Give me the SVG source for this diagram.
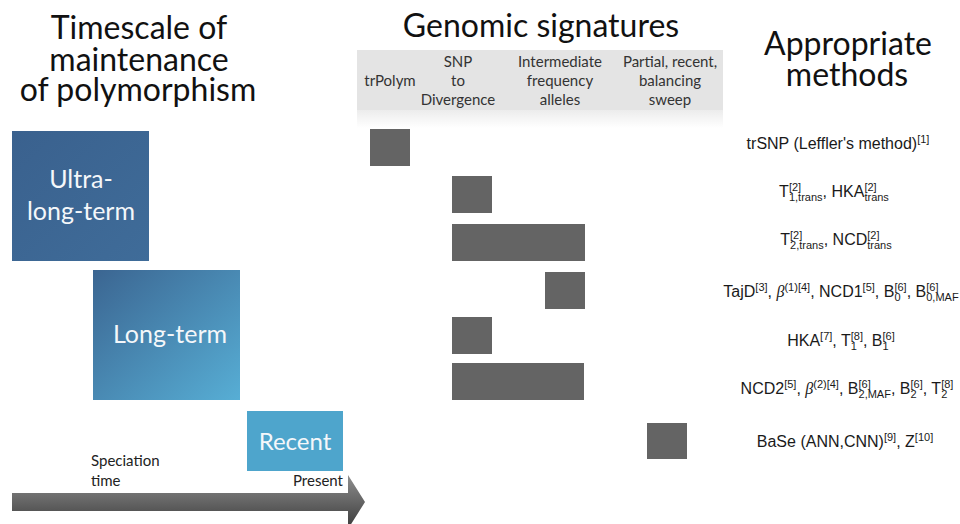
<svg xmlns="http://www.w3.org/2000/svg" width="960" height="524" viewBox="0 0 960 524">
<defs>
<linearGradient id="gUltra" x1="0" y1="0" x2="1" y2="1"><stop offset="0" stop-color="#3a618e"/><stop offset="1" stop-color="#3f6c99"/></linearGradient>
<linearGradient id="gLong" x1="0" y1="0" x2="1" y2="1"><stop offset="0" stop-color="#3b6591"/><stop offset="1" stop-color="#57aed5"/></linearGradient>
<linearGradient id="gArrow" x1="0" y1="0" x2="0" y2="1"><stop offset="0" stop-color="#8e8e8e"/><stop offset="1" stop-color="#3a3a3a"/></linearGradient>
<linearGradient id="gShadow" x1="0" y1="0" x2="0" y2="1"><stop offset="0" stop-color="#ececec"/><stop offset="1" stop-color="#ffffff"/></linearGradient>
<style>
.title{font-family:Lato,"Open Sans",sans-serif;font-size:32px;fill:#111;text-anchor:middle}
.col{font-family:Lato,"Open Sans",sans-serif;font-size:15px;fill:#333;text-anchor:middle}
.box{font-family:Lato,"Open Sans",sans-serif;font-size:25px;fill:#f4f7fa;text-anchor:middle}
.axis{font-family:Lato,"Open Sans",sans-serif;font-size:15px;fill:#222}
.m{font-family:"Liberation Sans",Arial,sans-serif;font-size:16px;fill:#1a1a1a;text-anchor:middle}
.s{font-size:11px}
.g{font-family:"Liberation Serif",serif;font-style:italic}
.blk{fill:#646464}
</style>
</defs>
<rect width="960" height="524" fill="#ffffff"/>

<g id="titles">
<text class="title" x="139" y="39">Timescale of</text>
<text class="title" x="139" y="71">maintenance</text>
<text class="title" x="138" y="101">of polymorphism</text>
<text class="title" x="541" y="37">Genomic signatures</text>
<text class="title" x="848" y="55">Appropriate</text>
<text class="title" x="847" y="86">methods</text>
</g>

<g id="header">
<rect x="357" y="110" width="366" height="18" fill="url(#gShadow)"/>
<rect x="357" y="50" width="366" height="60" fill="#e4e4e4"/>
<text class="col" x="390" y="86">trPolym</text>
<text class="col" x="458" y="67">SNP</text>
<text class="col" x="458" y="86">to</text>
<text class="col" x="458" y="105">Divergence</text>
<text class="col" x="560" y="67">Intermediate</text>
<text class="col" x="560" y="86">frequency</text>
<text class="col" x="560" y="105">alleles</text>
<text class="col" x="670" y="67">Partial, recent,</text>
<text class="col" x="670" y="86">balancing</text>
<text class="col" x="670" y="105">sweep</text>
</g>

<g id="ultra-long-term">
<rect x="12" y="131" width="137" height="130" fill="url(#gUltra)"/>
<text class="box" x="81" y="188">Ultra-</text>
<text class="box" x="81" y="220">long-term</text>
</g>
<g id="long-term">
<rect x="93" y="270" width="147" height="130" fill="url(#gLong)"/>
<text class="box" x="170" y="343">Long-term</text>
</g>
<g id="recent">
<rect x="247" y="411" width="96" height="60" fill="#4ea5cc"/>
<text class="box" x="295" y="450" style="font-size:24px">Recent</text>
</g>

<g id="timeline">
<polygon points="12,493 348,493 348,475 365,502 348,529 348,511 12,511" fill="url(#gArrow)"/>
<text class="axis" x="91" y="466">Speciation</text>
<text class="axis" x="91" y="486">time</text>
<text class="axis" x="293" y="486">Present</text>
</g>

<g id="signature-blocks">
<rect class="blk" x="370" y="129" width="40" height="37"/>
<rect class="blk" x="452" y="176" width="40" height="37"/>
<rect class="blk" x="452" y="224" width="133" height="37"/>
<rect class="blk" x="545" y="272" width="40" height="37"/>
<rect class="blk" x="452" y="317" width="40" height="37"/>
<rect class="blk" x="452" y="363" width="132" height="37"/>
<rect class="blk" x="647" y="423" width="40" height="36"/>
</g>

<g id="methods">
<text class="m" x="838" y="149">trSNP (Leffler's method)<tspan class="s" dy="-6">[1]</tspan></text>
<text class="m" x="834" y="197">T<tspan class="s" dy="-6">[2]</tspan><tspan class="s" dx="-12.2" dy="10">1,trans</tspan><tspan dy="-4">, HKA</tspan><tspan class="s" dy="-6">[2]</tspan><tspan class="s" dx="-12.2" dy="10">trans</tspan></text>
<text class="m" x="836" y="245">T<tspan class="s" dy="-6">[2]</tspan><tspan class="s" dx="-12.2" dy="10">2,trans</tspan><tspan dy="-4">, NCD</tspan><tspan class="s" dy="-6">[2]</tspan><tspan class="s" dx="-12.2" dy="10">trans</tspan></text>
<text class="m" x="841" y="297">TajD<tspan class="s" dy="-6">[3]</tspan><tspan dy="6">, </tspan><tspan class="g">β</tspan><tspan class="s" dy="-6">(1)[4]</tspan><tspan dy="6">, NCD1</tspan><tspan class="s" dy="-6">[5]</tspan><tspan dy="6">, B</tspan><tspan class="s" dy="4">0</tspan><tspan class="s" dx="-6.1" dy="-10">[6]</tspan><tspan dy="6">, B</tspan><tspan class="s" dy="-6">[6]</tspan><tspan class="s" dx="-12.2" dy="10">0,MAF</tspan></text>
<text class="m" x="841" y="346">HKA<tspan class="s" dy="-6">[7]</tspan><tspan dy="6">, T</tspan><tspan class="s" dy="4">1</tspan><tspan class="s" dx="-6.1" dy="-10">[8]</tspan><tspan dy="6">, B</tspan><tspan class="s" dy="4">1</tspan><tspan class="s" dx="-6.1" dy="-10">[6]</tspan></text>
<text class="m" x="847" y="394">NCD2<tspan class="s" dy="-6">[5]</tspan><tspan dy="6">, </tspan><tspan class="g">β</tspan><tspan class="s" dy="-6">(2)[4]</tspan><tspan dy="6">, B</tspan><tspan class="s" dy="-6">[6]</tspan><tspan class="s" dx="-12.2" dy="10">2,MAF</tspan><tspan dy="-4">, B</tspan><tspan class="s" dy="4">2</tspan><tspan class="s" dx="-6.1" dy="-10">[6]</tspan><tspan dy="6">, T</tspan><tspan class="s" dy="4">2</tspan><tspan class="s" dx="-6.1" dy="-10">[8]</tspan></text>
<text class="m" x="845" y="447">BaSe (ANN,CNN)<tspan class="s" dy="-6">[9]</tspan><tspan dy="6">, Z</tspan><tspan class="s" dy="-6">[10]</tspan></text>
</g>

<g id="connectors"></g>
</svg>
